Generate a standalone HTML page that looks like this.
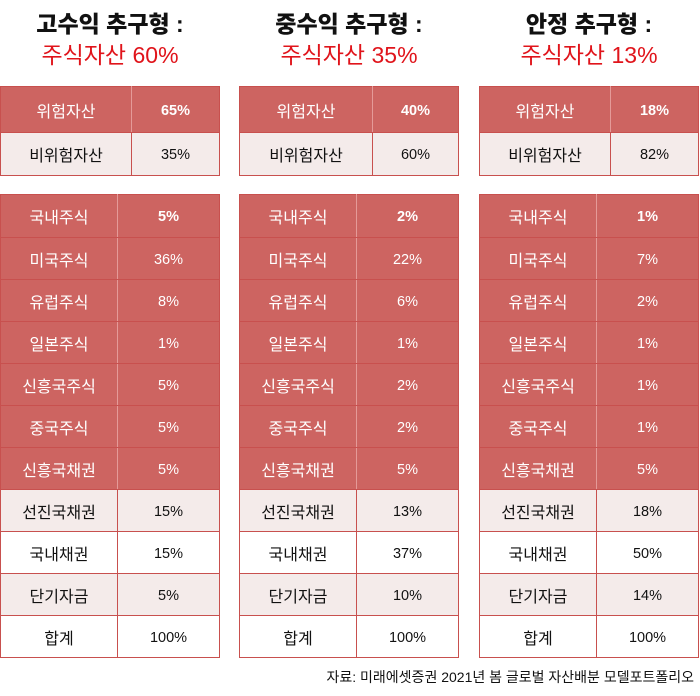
<!DOCTYPE html>
<html><head><meta charset="utf-8"><style>
body{margin:0;width:700px;height:696px;background:#fff;position:relative;overflow:hidden;font-family:"Liberation Sans","Noto Sans CJK KR",sans-serif}
.t1{position:absolute;width:220px;text-align:center;font-weight:900;font-size:23px;color:#111;top:9px;line-height:30px}
.t2{position:absolute;width:220px;text-align:center;font-size:23px;color:#e0141b;top:40px;line-height:30px}
table{position:absolute;border-collapse:collapse;width:220px;table-layout:fixed}
td{border:1.5px solid #c8504e;text-align:center;font-size:16px;color:#111;padding:0;vertical-align:middle}
td+td{font-size:14.5px;padding-top:2px}
tr.r td{background:#cd6461;color:#fff;border-color:#c8504e}
tr.r td:first-child{border-right:1px solid #e59a98}
tr.l td{background:#f4ebea}
tr.w td{background:#fff}
tr.b td+td{font-weight:bold}
.src{position:absolute;right:6px;top:667px;font-size:14px;color:#111}
</style></head><body>
<div class="t1" style="left:0">고수익 추구형 :</div><div class="t2" style="left:0">주식자산 60%</div>
<div class="t1" style="left:239px">중수익 추구형 :</div><div class="t2" style="left:239px">주식자산 35%</div>
<div class="t1" style="left:479px">안정 추구형 :</div><div class="t2" style="left:479px">주식자산 13%</div>

<table style="left:0;top:86px"><col style="width:131px"><col><tr class="r b" style="height:46px"><td>위험자산</td><td>65%</td></tr><tr class="l" style="height:43px"><td>비위험자산</td><td>35%</td></tr></table>
<table style="left:239px;top:86px"><col style="width:133px"><col><tr class="r b" style="height:46px"><td>위험자산</td><td>40%</td></tr><tr class="l" style="height:43px"><td>비위험자산</td><td>60%</td></tr></table>
<table style="left:479px;top:86px"><col style="width:131px"><col><tr class="r b" style="height:46px"><td>위험자산</td><td>18%</td></tr><tr class="l" style="height:43px"><td>비위험자산</td><td>82%</td></tr></table>

<table style="left:0;top:194px"><col style="width:117px"><col>
<tr class="r b" style="height:43px"><td>국내주식</td><td>5%</td></tr>
<tr class="r" style="height:42px"><td>미국주식</td><td>36%</td></tr>
<tr class="r" style="height:42px"><td>유럽주식</td><td>8%</td></tr>
<tr class="r" style="height:42px"><td>일본주식</td><td>1%</td></tr>
<tr class="r" style="height:42px"><td>신흥국주식</td><td>5%</td></tr>
<tr class="r" style="height:42px"><td>중국주식</td><td>5%</td></tr>
<tr class="r" style="height:42px"><td>신흥국채권</td><td>5%</td></tr>
<tr class="l" style="height:42px"><td>선진국채권</td><td>15%</td></tr>
<tr class="w" style="height:42px"><td>국내채권</td><td>15%</td></tr>
<tr class="l" style="height:42px"><td>단기자금</td><td>5%</td></tr>
<tr class="w" style="height:42px"><td>합계</td><td>100%</td></tr></table>

<table style="left:239px;top:194px"><col style="width:117px"><col>
<tr class="r b" style="height:43px"><td>국내주식</td><td>2%</td></tr>
<tr class="r" style="height:42px"><td>미국주식</td><td>22%</td></tr>
<tr class="r" style="height:42px"><td>유럽주식</td><td>6%</td></tr>
<tr class="r" style="height:42px"><td>일본주식</td><td>1%</td></tr>
<tr class="r" style="height:42px"><td>신흥국주식</td><td>2%</td></tr>
<tr class="r" style="height:42px"><td>중국주식</td><td>2%</td></tr>
<tr class="r" style="height:42px"><td>신흥국채권</td><td>5%</td></tr>
<tr class="l" style="height:42px"><td>선진국채권</td><td>13%</td></tr>
<tr class="w" style="height:42px"><td>국내채권</td><td>37%</td></tr>
<tr class="l" style="height:42px"><td>단기자금</td><td>10%</td></tr>
<tr class="w" style="height:42px"><td>합계</td><td>100%</td></tr></table>

<table style="left:479px;top:194px"><col style="width:117px"><col>
<tr class="r b" style="height:43px"><td>국내주식</td><td>1%</td></tr>
<tr class="r" style="height:42px"><td>미국주식</td><td>7%</td></tr>
<tr class="r" style="height:42px"><td>유럽주식</td><td>2%</td></tr>
<tr class="r" style="height:42px"><td>일본주식</td><td>1%</td></tr>
<tr class="r" style="height:42px"><td>신흥국주식</td><td>1%</td></tr>
<tr class="r" style="height:42px"><td>중국주식</td><td>1%</td></tr>
<tr class="r" style="height:42px"><td>신흥국채권</td><td>5%</td></tr>
<tr class="l" style="height:42px"><td>선진국채권</td><td>18%</td></tr>
<tr class="w" style="height:42px"><td>국내채권</td><td>50%</td></tr>
<tr class="l" style="height:42px"><td>단기자금</td><td>14%</td></tr>
<tr class="w" style="height:42px"><td>합계</td><td>100%</td></tr></table>

<div class="src">자료: 미래에셋증권 2021년 봄 글로벌 자산배분 모델포트폴리오</div>
</body></html>
